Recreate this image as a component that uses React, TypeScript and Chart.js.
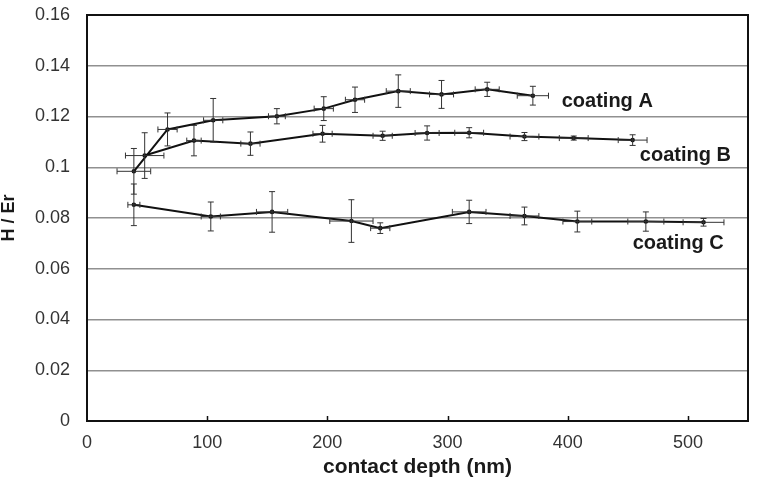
import React, { useEffect, useRef } from "react";
import { Chart, registerables } from "chart.js";

Chart.register(...registerables);

// contact depth (nm) and H/Er values
const depthA = [39, 67, 105, 158, 197, 223, 259, 295, 333, 371];
const hErA = [0.0984, 0.1149, 0.1185, 0.1201, 0.1231, 0.1266, 0.13, 0.1287, 0.1307, 0.1282];
const yErrA = [0.009, 0.0065, 0.0086, 0.003, 0.0047, 0.005, 0.0064, 0.0055, 0.0028, 0.0037];
const xErrA = [14, 8, 8, 7, 8, 8, 10, 10, 10, 13];

const depthB = [48, 89, 136, 196, 246, 283, 318, 364, 405, 454];
const hErB = [0.1046, 0.1105, 0.1093, 0.1132, 0.1124, 0.1135, 0.1136, 0.1121, 0.1115, 0.1107];
const yErrB = [0.009, 0.006, 0.0046, 0.0033, 0.0018, 0.0028, 0.002, 0.0016, 0.0008, 0.0021];
const xErrB = [16, 6, 8, 8, 8, 10, 12, 12, 12, 12];

const depthC = [39, 103, 154, 220, 244, 318, 364, 408, 465, 513];
const hErC = [0.0852, 0.0806, 0.0824, 0.0788, 0.076, 0.0824, 0.0808, 0.0786, 0.0786, 0.0783];
const yErrC = [0.0082, 0.0057, 0.008, 0.0084, 0.0021, 0.0046, 0.0035, 0.0041, 0.0038, 0.0015];
const xErrC = [5, 8, 13, 18, 8, 14, 12, 12, 15, 17];

const seriesNames = ["coating A", "coating B", "coating C"];
// label anchors in data units (depth, H/Er)
const labelX = [395, 460, 454];
const labelY = [0.1261, 0.1048, 0.0701];

const xTicks = [0, 100, 200, 300, 400, 500];

const series = [
  { x: depthA, y: hErA, ex: xErrA, ey: yErrA },
  { x: depthB, y: hErB, ex: xErrB, ey: yErrB },
  { x: depthC, y: hErC, ex: xErrC, ey: yErrC },
];

const FONT = "Arial, 'Liberation Sans', sans-serif";

const overlayPlugin = {
  id: "overlay",
  afterDatasetsDraw(chart: any) {
    const { ctx, chartArea, scales } = chart;
    const xs = scales.x;
    const ys = scales.y;
    ctx.save();
    // error bars
    ctx.strokeStyle = "#333";
    ctx.lineWidth = 1;
    const cap = 3;
    series.forEach((s) => {
      s.x.forEach((xv, i) => {
        const px = xs.getPixelForValue(xv);
        const py = ys.getPixelForValue(s.y[i]);
        const yTop = ys.getPixelForValue(s.y[i] + s.ey[i]);
        const yBot = ys.getPixelForValue(s.y[i] - s.ey[i]);
        const xL = xs.getPixelForValue(xv - s.ex[i]);
        const xR = xs.getPixelForValue(xv + s.ex[i]);
        ctx.beginPath();
        ctx.moveTo(px, yTop);
        ctx.lineTo(px, yBot);
        ctx.moveTo(px - cap, yTop);
        ctx.lineTo(px + cap, yTop);
        ctx.moveTo(px - cap, yBot);
        ctx.lineTo(px + cap, yBot);
        ctx.moveTo(xL, py);
        ctx.lineTo(xR, py);
        ctx.moveTo(xL, py - cap);
        ctx.lineTo(xL, py + cap);
        ctx.moveTo(xR, py - cap);
        ctx.lineTo(xR, py + cap);
        ctx.stroke();
      });
    });
    // series labels
    ctx.fillStyle = "#1a1a1a";
    ctx.font = `bold 20px ${FONT}`;
    ctx.textAlign = "left";
    ctx.textBaseline = "middle";
    seriesNames.forEach((n, i) => {
      ctx.fillText(n, xs.getPixelForValue(labelX[i]), ys.getPixelForValue(labelY[i]));
    });
    // frame
    ctx.strokeStyle = "#111";
    ctx.lineWidth = 2;
    ctx.strokeRect(chartArea.left, chartArea.top, chartArea.right - chartArea.left, chartArea.bottom - chartArea.top);
    // inward x ticks
    ctx.lineWidth = 1.5;
    ctx.beginPath();
    xTicks.forEach((t) => {
      if (t === 0) return;
      const px = Math.round(xs.getPixelForValue(t)) + 0.5;
      ctx.moveTo(px, chartArea.bottom);
      ctx.lineTo(px, chartArea.bottom - 5);
    });
    ctx.stroke();
    ctx.restore();
  },
};

export default function App() {
  const ref = useRef<HTMLCanvasElement>(null);
  useEffect(() => {
    if (!ref.current) return;
    const mk = (s: any) => ({
      data: s.x.map((x: number, i: number) => ({ x, y: s.y[i] })),
      showLine: true,
      borderColor: "#111",
      borderWidth: 2,
      pointRadius: 2.3,
      pointBackgroundColor: "#111",
      pointBorderWidth: 0,
      tension: 0,
    });
    const chart = new Chart(ref.current, {
      type: "scatter",
      data: { datasets: series.map(mk) },
      options: {
        animation: false,
        responsive: false,
        devicePixelRatio: 1,
        layout: { padding: { top: 15, right: 9, left: 0, bottom: 0 } },
        plugins: { legend: { display: false }, tooltip: { enabled: false } },
        scales: {
          x: {
            type: "linear",
            min: 0,
            max: 550,
            afterBuildTicks: (scale: any) => {
              scale.ticks = xTicks.map((v) => ({ value: v }));
            },
            afterFit: (scale: any) => {
              scale.height = 67;
              scale.paddingLeft = 0;
              scale.paddingRight = 0;
            },
            grid: { display: false, drawTicks: false },
            border: { display: false },
            ticks: {
              padding: 11,
              color: "#333",
              font: { family: FONT, size: 18 },
              maxRotation: 0,
              callback: (v: any) => String(v),
            },
            title: {
              display: true,
              text: "contact depth (nm)",
              color: "#1a1a1a",
              font: { family: FONT, size: 21, weight: "bold" },
              padding: { top: 0, bottom: 8 },
            },
          },
          y: {
            type: "linear",
            min: 0,
            max: 0.16,
            ticks: {
              stepSize: 0.02,
              padding: 17,
              color: "#333",
              font: { family: FONT, size: 18 },
              callback: (v: any) => String(+Number(v).toFixed(2)),
            },
            afterFit: (scale: any) => {
              scale.width = 87;
              scale.paddingTop = 0;
              scale.paddingBottom = 0;
            },
            grid: { color: "#909090", lineWidth: 1.5, drawTicks: false },
            border: { display: false },
            title: {
              display: true,
              text: "H / Er",
              color: "#1a1a1a",
              font: { family: FONT, size: 18, weight: "bold", lineHeight: 1 },
              padding: { top: 0, bottom: 0 },
            },
          },
        },
      },
      plugins: [overlayPlugin],
    } as any);
    return () => chart.destroy();
  }, []);
  return (
    <div style={{ position: "fixed", left: 0, top: 0, width: 757, height: 488, background: "#fff" }}>
      <canvas ref={ref} width={757} height={488} style={{ display: "block" }} />
    </div>
  );
}
